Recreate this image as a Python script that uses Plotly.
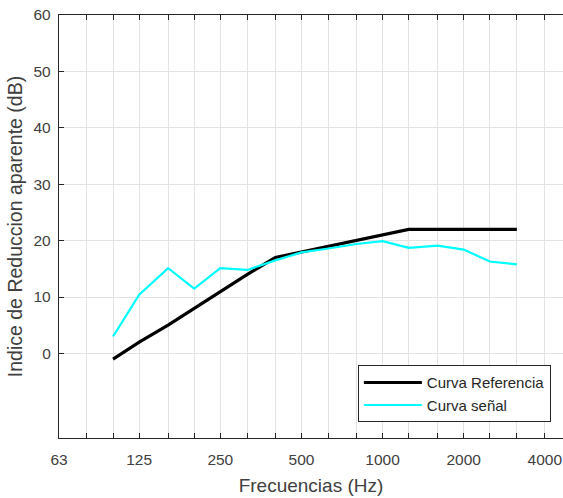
import plotly.graph_objects as go
import numpy as np

freqs = [100, 125, 160, 200, 250, 315, 400, 500, 630, 800, 1000, 1250, 1600, 2000, 2500, 3150]
ref_curve = [-1, 2, 5, 8, 11, 14, 17, 18, 19, 20, 21, 22, 22, 22, 22, 22]
signal_curve = [3, 10.4, 15.1, 11.5, 15.1, 14.8, 16.5, 17.9, 18.6, 19.4, 19.9, 18.7, 19.1, 18.4, 16.3, 15.8]

grid_freqs = [63, 80, 100, 125, 160, 200, 250, 315, 400, 500, 630, 800, 1000, 1250, 1600, 2000, 2500, 3150, 4000]
label_freqs = [63, 125, 250, 500, 1000, 2000, 4000]
tick_text = [str(f) if f in label_freqs else "" for f in grid_freqs]
y_ticks = [0, 10, 20, 30, 40, 50, 60]

fig = go.Figure()
fig.add_trace(go.Scatter(x=freqs, y=ref_curve, mode="lines", name="Curva Referencia",
                         line=dict(color="black", width=3.2)))
fig.add_trace(go.Scatter(x=freqs, y=signal_curve, mode="lines", name="Curva señal",
                         line=dict(color="#00FFFF", width=2.2)))

axis_col = "#262626"
fig.update_layout(
    width=563, height=498,
    margin=dict(l=59, r=0, t=15, b=60),
    paper_bgcolor="white", plot_bgcolor="white",
    font=dict(family="Liberation Sans, Arial, sans-serif", color="#404040", size=15.5),
    showlegend=True,
    legend=dict(x=0.593, y=0.172, xanchor="left", yanchor="top",
                bordercolor="#262626", borderwidth=1, bgcolor="white",
                font=dict(size=15, color="#262626"),
                tracegroupgap=0, itemwidth=58),
    xaxis=dict(type="log", range=[np.log10(63), np.log10(4672)],
               tickmode="array", tickvals=grid_freqs, ticktext=tick_text,
               showgrid=True, gridcolor="#e3e3e3", gridwidth=1,
               showline=True, linecolor=axis_col, linewidth=1.3, mirror="ticks",
               ticks="inside", ticklen=5, tickcolor=axis_col,
               ticklabelstandoff=7,
               title=dict(text="Frecuencias (Hz)", font=dict(size=19, color="#404040"), standoff=11),
               zeroline=False),
    yaxis=dict(range=[-15, 60], tickmode="array", tickvals=y_ticks,
               showgrid=True, gridcolor="#e3e3e3", gridwidth=1,
               showline=True, linecolor=axis_col, linewidth=1.3, mirror=False,
               ticks="inside", ticklen=5, tickcolor=axis_col,
               ticklabelstandoff=4,
               title=dict(text="Indice de Reduccion aparente (dB)", font=dict(size=19.5, color="#404040"), standoff=5),
               zeroline=False),
)

fig.write_html("out.html")
